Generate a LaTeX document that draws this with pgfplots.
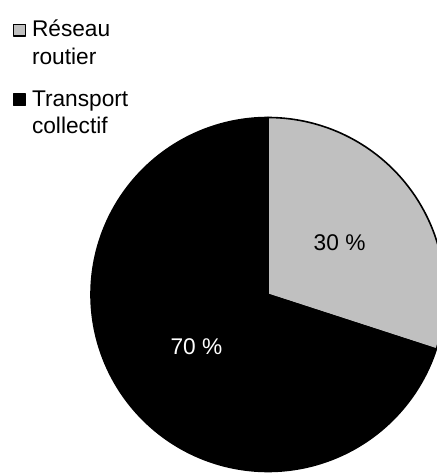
\documentclass[border=0pt]{standalone}
\usepackage{pgfplots}
\pgfplotsset{compat=1.18}
\usepackage{pgfplotstable}
\usepackage{fontspec}
\setmainfont{Liberation Sans}

\definecolor{routier}{RGB}{192,192,192}

% shares of the two modes, in percent
\pgfplotstableread[col sep=comma]{
part,share
Reseau routier,30
Transport collectif,70
}\pietable

% legend swatch, raised to sit beside the first line of a two-line entry
\newcommand\swatch[1]{\draw[fill=#1, draw=black, line width=1.3pt]
  (0.65pt,28.15pt) rectangle (12.35pt,39.85pt);}

\begin{document}
\begin{tikzpicture}
\pgfplotstablegetelem{0}{share}\of\pietable\edef\shareA{\pgfplotsretval}
\pgfplotstablegetelem{1}{share}\of\pietable\edef\shareB{\pgfplotsretval}
% centre and radius of the pie, in axis units
\def\cx{268}\def\cy{180.5}\def\r{177}
% slices start at 12 o'clock and run clockwise
\pgfmathsetmacro\aStart{90}
\pgfmathsetmacro\aSplit{90-3.6*\shareA}
\pgfmathsetmacro\aEnd{\aSplit-3.6*\shareB}
\pgfmathsetmacro\midA{(\aStart+\aSplit)/2}
\pgfmathsetmacro\midB{(\aSplit+\aEnd)/2}
\begin{axis}[
  scale only axis, width=437pt, height=475pt,
  xmin=0, xmax=437, ymin=0, ymax=475,
  hide axis, clip=true,
  legend style={
    at={(axis cs:13,455)}, anchor=north west,
    draw=none, fill=none, inner sep=0pt, outer sep=0pt,
    font=\fontsize{22.7}{27.5}\selectfont,
    cells={anchor=base west, align=left},
    nodes={inner sep=0pt},
    column sep=6pt, row sep=25pt,
  },
]
\addplot[draw=black, fill=routier, line width=1.6pt, line join=round,
  domain=\aSplit:\aStart, samples=200,
  legend image code/.code={\swatch{routier}}]
  ({\cx+\r*cos(x)},{\cy+\r*sin(x)}) -- (axis cs:\cx,\cy) -- cycle;
\addlegendentry{Réseau\\routier}
\addplot[draw=black, fill=black, line width=1.6pt, line join=round,
  domain=\aEnd:\aSplit, samples=300,
  legend image code/.code={\swatch{black}}]
  ({\cx+\r*cos(x)},{\cy+\r*sin(x)}) -- (axis cs:\cx,\cy) -- cycle;
\addlegendentry{Transport\\collectif}
\node[font=\fontsize{22.7}{27.5}\selectfont, text=black]
  at (axis cs:{\cx+0.5*\r*cos(\midA)},{\cy+0.5*\r*sin(\midA)}) {\shareA\ \%};
\node[font=\fontsize{22.7}{27.5}\selectfont, text=white]
  at (axis cs:{\cx+0.5*\r*cos(\midB)},{\cy+0.5*\r*sin(\midB)}) {\shareB\ \%};
\end{axis}
\path (current axis.south west) rectangle (current axis.north east);
\end{tikzpicture}
\end{document}
